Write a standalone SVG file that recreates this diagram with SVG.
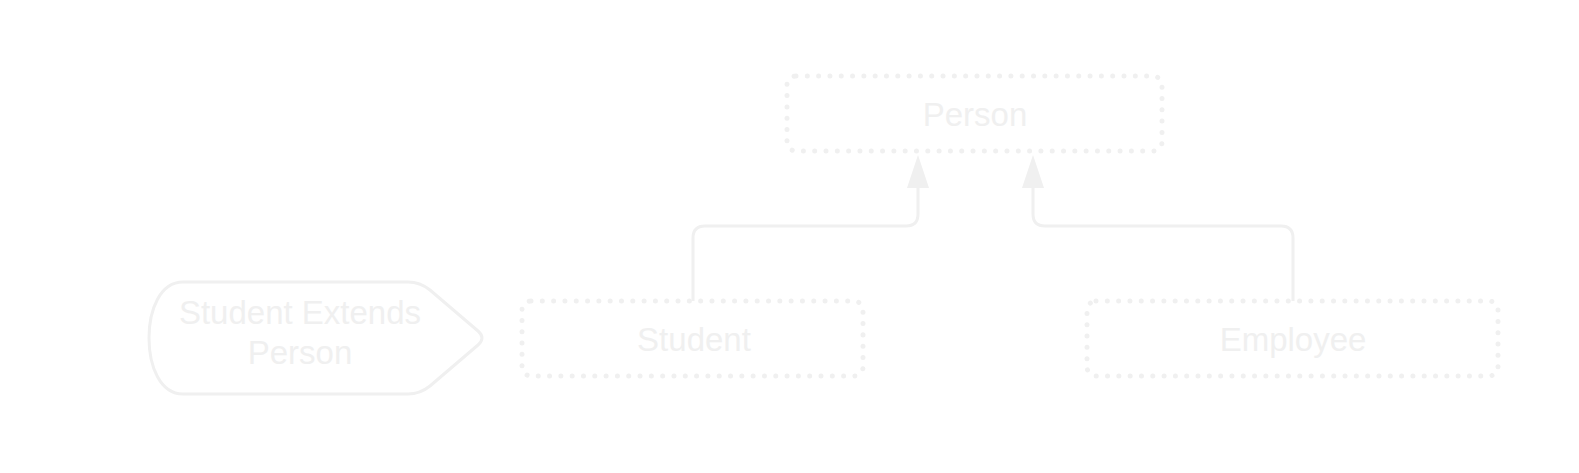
<svg xmlns="http://www.w3.org/2000/svg" width="1579" height="473" viewBox="0 0 1579 473">
<style>
.box{fill:none;stroke:#f0f0f0;stroke-width:5;stroke-dasharray:0.01 11.3;stroke-linecap:round}
.lbl{font-family:"Liberation Sans",Arial,sans-serif;font-size:33px;fill:#f0f0f0;text-anchor:middle}
.edge{fill:none;stroke:#f0f0f0;stroke-width:3}
.head{fill:#f0f0f0}
</style>
<rect width="1579" height="473" fill="#ffffff"/>
<g id="connectors">
<path class="edge" d="M693 301 V238 Q693 226 705 226 H906 Q918 226 918 214 V186"/>
<polygon class="head" points="907,188 929,188 918,155"/>
<path class="edge" d="M1293 301 V238 Q1293 226 1281 226 H1045 Q1033 226 1033 214 V186"/>
<polygon class="head" points="1022,188 1044,188 1033,155"/>
</g>
<g id="person">
<rect class="box" x="787" y="76" width="375" height="75" rx="9"/>
<text class="lbl" x="975" y="126">Person</text>
</g>
<g id="student">
<rect class="box" x="522" y="301" width="341" height="75" rx="9"/>
<text class="lbl" x="694" y="351">Student</text>
</g>
<g id="employee">
<rect class="box" x="1087" y="301" width="411" height="75" rx="9"/>
<text class="lbl" x="1293" y="351">Employee</text>
</g>
<g id="note">
<path class="edge" d="M183 282 L408 282 Q420 282 430 290 L478 331 Q486 338 478 345 L430 386 Q420 394 408 394 L183 394 C160 394 149 366 149 338 C149 310 160 282 183 282 Z"/>
<text class="lbl" x="300" y="324">Student Extends</text>
<text class="lbl" x="300" y="364">Person</text>
</g>
</svg>
